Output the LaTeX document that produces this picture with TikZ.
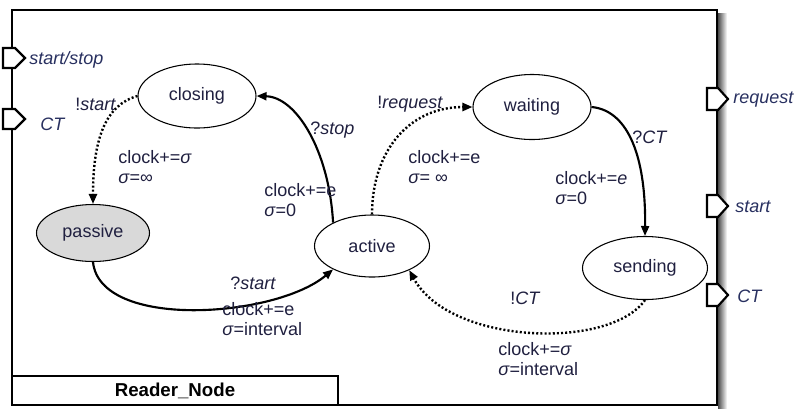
\documentclass[tikz,border=0pt]{standalone}
\usepackage{fontspec}
\setmainfont{Liberation Sans}
\usetikzlibrary{shapes.geometric,arrows.meta}
\definecolor{txt}{RGB}{32,32,64}
\definecolor{lbl}{RGB}{40,48,96}
\definecolor{passfill}{RGB}{217,217,217}
\begin{document}
\begin{tikzpicture}[x=0.75pt,y=-0.75pt,
  every node/.style={font=\fontsize{13.5}{15}\selectfont, text=txt, inner sep=0pt},
  state/.style={ellipse, draw=black, line width=0.8pt, fill=white},
  frameline/.style={line width=1.9pt, draw=black},
  port/.style={line width=1.6pt, draw=black, fill=white, line join=miter},
  solidedge/.style={line width=1.6pt, -{Triangle[length=7.5pt,width=6pt]}},
  dotedge/.style={line width=1.8pt, dash pattern=on 1.5pt off 1.6pt, -{Triangle[length=7.5pt,width=6pt]}},
  lab/.style={anchor=west, align=left},
  portlab/.style={anchor=west, text=lbl, font=\fontsize{13.5}{15}\selectfont\itshape}
]
\useasboundingbox (0,0) rectangle (795,408);
% shadow at right
\shade[left color=black!70, right color=white] (718,13) rectangle (727,408);
% frame
\draw[frameline, fill=white] (12,10) rectangle (717,405);
\draw[frameline] (12,376) rectangle (338,405);
\node[font=\fontsize{14}{15}\selectfont\bfseries, text=black] (title) at (175,391) {Reader\_Node};
% left ports
\draw[port] (3,48) -- (15,48) -- (25,58) -- (15,68) -- (3,68) -- cycle;
\draw[port] (3,109) -- (15,109) -- (25,119) -- (15,129) -- (3,129) -- cycle;
\node[portlab] (pl1) at (29,60) {start/stop};
\node[portlab] (pl2) at (40,124) {CT};
% right ports
\draw[port] (707,88) -- (718,88) -- (728,99) -- (718,110) -- (707,110) -- cycle;
\draw[port] (707,195) -- (718,195) -- (728,206) -- (718,217) -- (707,217) -- cycle;
\draw[port] (707,284) -- (718,284) -- (728,295) -- (718,306) -- (707,306) -- cycle;
\node[portlab] (pr1) at (733,100) {request};
\node[portlab] (pr2) at (735,207) {start};
\node[portlab] (pr3) at (737,296) {CT};
% states
\node[state, minimum width=88.5pt, minimum height=48pt] (closing) at (197,96) {closing};
\node[state, fill=passfill, minimum width=84.75pt, minimum height=42.75pt] (passive) at (93,233) {passive};
\node[state, minimum width=86.25pt, minimum height=46.5pt] (active) at (372,246) {active};
\node[state, minimum width=88.5pt, minimum height=48.75pt] (waiting) at (532,107) {waiting};
\node[state, minimum width=93.75pt, minimum height=47.25pt] (sending) at (645,268) {sending};
% transitions
\draw[dotedge] (closing.west) .. controls (105,105) and (93,140) .. (passive.north);
\draw[solidedge] (active.149) .. controls (329,150) and (296,97) .. (closing.east);
\draw[solidedge] (passive.south) .. controls (100,330) and (275,318) .. (active.211);
\draw[dotedge] (active.north) .. controls (372,150) and (410,107) .. (waiting.west);
\draw[solidedge] (waiting.east) .. controls (625,110) and (646,150) .. (sending.north);
\draw[dotedge] (sending.south) .. controls (610,350) and (450,345) .. (active.327);
% labels
\node[lab] (l1) at (75,104) {!\textit{start}};
\node[lab] (l2) at (118,167) {clock+=\textit{σ}\\\textit{σ}=∞};
\node[lab] (l3) at (310,130) {?\textit{stop}};
\node[lab] (l4) at (264,200) {clock+=e\\\textit{σ}=0};
\node[lab] (l5) at (230,283) {?\textit{start}};
\node[lab] (l6) at (222,319.5) {clock+=e\\\textit{σ}=interval};
\node[lab] (l7) at (377,104) {!\textit{request}};
\node[lab] (l8) at (408,167) {clock+=e\\\textit{σ}= ∞};
\node[lab] (l9) at (632,137) {?\textit{CT}};
\node[lab] (l10) at (555,188) {clock+=\textit{e}\\\textit{σ}=0};
\node[lab] (l11) at (510,298) {!\textit{CT}};
\node[lab] (l12) at (498,359.5) {clock+=\textit{σ}\\\textit{σ}=interval};
\end{tikzpicture}
\end{document}
